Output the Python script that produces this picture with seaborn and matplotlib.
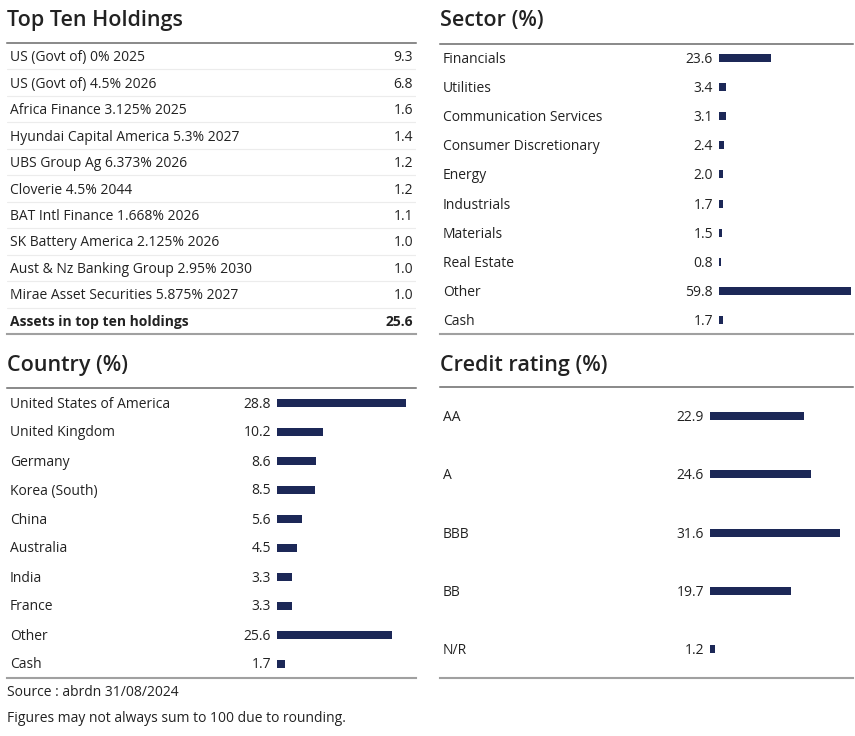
"""
Fund breakdown panels: top holdings, sector, country, credit rating
"""

import matplotlib
matplotlib.use("Agg")
import matplotlib.pyplot as plt
import seaborn as sns
from matplotlib.transforms import blended_transform_factory

sns.set_theme(style="white")
plt.rcParams['font.family'] = ['Open Sans', 'DejaVu Sans']

W, H = 855, 736
NAVY = '#1c2857'
TEXT = '#222222'
FS = 10

# data
holdings = ['US (Govt of) 0% 2025', 'US (Govt of) 4.5% 2026', 'Africa Finance 3.125% 2025',
            'Hyundai Capital America 5.3% 2027', 'UBS Group Ag 6.373% 2026', 'Cloverie 4.5% 2044',
            'BAT Intl Finance 1.668% 2026', 'SK Battery America 2.125% 2026',
            'Aust & Nz Banking Group 2.95% 2030', 'Mirae Asset Securities 5.875% 2027']
holding_pct = [9.3, 6.8, 1.6, 1.4, 1.2, 1.2, 1.1, 1.0, 1.0, 1.0]
holdings_total = 25.6

sectors = ['Financials', 'Utilities', 'Communication Services', 'Consumer Discretionary',
           'Energy', 'Industrials', 'Materials', 'Real Estate', 'Other', 'Cash']
sector_pct = [23.6, 3.4, 3.1, 2.4, 2.0, 1.7, 1.5, 0.8, 59.8, 1.7]

countries = ['United States of America', 'United Kingdom', 'Germany', 'Korea (South)', 'China',
             'Australia', 'India', 'France', 'Other', 'Cash']
country_pct = [28.8, 10.2, 8.6, 8.5, 5.6, 4.5, 3.3, 3.3, 25.6, 1.7]

ratings = ['AA', 'A', 'BBB', 'BB', 'N/R']
rating_pct = [22.9, 24.6, 31.6, 19.7, 1.2]

fig = plt.figure(figsize=(W / 100, H / 100), dpi=100)


def px_axes(x0, y0, x1, y1):
    return fig.add_axes([x0 / W, 1 - y1 / H, (x1 - x0) / W, (y1 - y0) / H])


def style_frame(ax):
    ax.spines['left'].set_visible(False)
    ax.spines['right'].set_visible(False)
    ax.spines['top'].set_color('#6a6a6a')
    ax.spines['top'].set_linewidth(1.1)
    ax.spines['bottom'].set_color('#a0a0a0')
    ax.spines['bottom'].set_linewidth(1.5)
    ax.set_xticks([])
    ax.set_yticks([])
    ax.set_xlabel('')
    ax.set_ylabel('')
    ax.patch.set_alpha(0)


def title(x, y, s):
    fig.text(x / W, 1 - y / H, s, fontsize=15.5, weight='semibold', va='center', color=TEXT)


def bar_panel(x0, y0, x1, y1, cats, vals, bar_start, px_per_unit, bar_px=8):
    ax = px_axes(x0, y0, x1, y1)
    n = len(cats)
    row_px = (y1 - y0) / n
    dy = 1.5 / row_px
    sns.barplot(x=vals, y=cats, orient='h', color=NAVY, saturation=1,
                width=bar_px / row_px, linewidth=0, ax=ax)
    left = -(bar_start - x0) / px_per_unit
    ax.set_xlim(left, left + (x1 - x0) / px_per_unit)
    ax.set_ylim(n - 0.5, -0.5)
    style_frame(ax)
    tr = blended_transform_factory(ax.transAxes, ax.transData)
    for i, (c, v) in enumerate(zip(cats, vals)):
        ax.text(3 / (x1 - x0), i + dy, c, transform=tr, ha='left', va='center',
                fontsize=FS, color=TEXT)
        ax.text(-6 / px_per_unit, i + dy, f"{v:.1f}", ha='right', va='center',
                fontsize=FS, color=TEXT)
    return ax


# Top ten holdings table
title(7, 20.5, 'Top Ten Holdings')
ax = px_axes(7, 43, 416, 334)
rows = holdings + ['Assets in top ten holdings']
vals = holding_pct + [holdings_total]
n = len(rows)
dy = 1.5 / ((334 - 43) / n)
ax.set_xlim(7, 416)
ax.set_ylim(n - 0.5, -0.5)
for i in range(1, n):
    ax.axhline(i - 0.5, color='#ececec', lw=0.8)
for i, (r, v) in enumerate(zip(rows, vals)):
    w = 'bold' if i == n - 1 else 'normal'
    ax.text(10, i + dy, r, ha='left', va='center', fontsize=FS, color=TEXT, weight=w)
    ax.text(413, i + dy, f"{v:.1f}", ha='right', va='center', fontsize=FS, color=TEXT, weight=w)
style_frame(ax)

# Sector
title(440, 20.5, 'Sector (%)')
bar_panel(440, 43.5, 853, 334.5, sectors, sector_pct, bar_start=719, px_per_unit=2.2)

# Country
title(7, 365.5, 'Country (%)')
bar_panel(7, 388, 416, 678, countries, country_pct, bar_start=277, px_per_unit=4.48)

# Credit rating
title(440, 365.5, 'Credit rating (%)')
bar_panel(440, 387, 853, 678, ratings, rating_pct, bar_start=710, px_per_unit=4.1)

fig.text(7 / W, 1 - 692 / H, 'Source : abrdn 31/08/2024', fontsize=FS, va='center', color=TEXT)
fig.text(7 / W, 1 - 718 / H, 'Figures may not always sum to 100 due to rounding.',
         fontsize=FS, va='center', color=TEXT)

plt.savefig('out.png', dpi=100)
